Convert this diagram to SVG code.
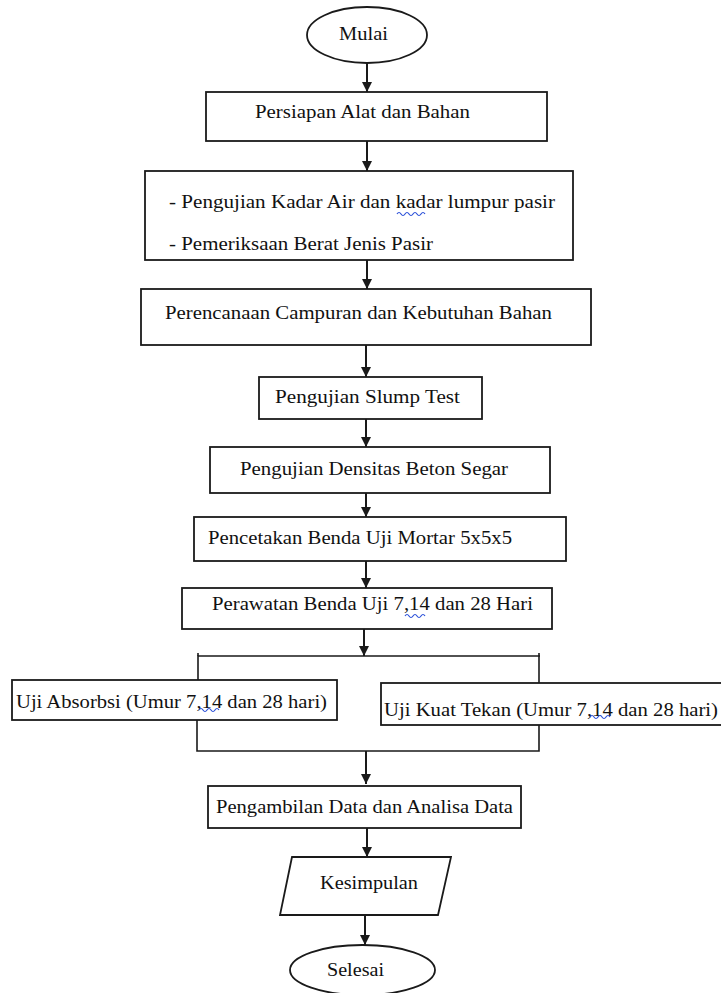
<svg xmlns="http://www.w3.org/2000/svg" width="721" height="993" viewBox="0 0 721 993">
<style>
.shape{fill:#fff;stroke:#1a1a1a;stroke-width:1.8}
.t{font-family:"Liberation Serif","Times New Roman",serif;font-size:19px;fill:#111}
.c{fill:none;stroke:#1a1a1a;stroke-width:2}
.b{fill:none;stroke:#1a1a1a;stroke-width:1.6}
.sq{fill:none;stroke:#2a4fd8;stroke-width:1.2}
</style>
<defs>
<marker id="ah" markerUnits="userSpaceOnUse" markerWidth="11" markerHeight="11" refX="10" refY="5" orient="auto">
<path d="M0,0 L10,5 L0,10 z" fill="#1a1a1a"/>
</marker>
</defs>
<rect width="721" height="993" fill="#fff"/>
<g id="connectors">
<line class="c" x1="367" y1="63" x2="367" y2="92" marker-end="url(#ah)"/>
<line class="c" x1="367" y1="141" x2="367" y2="171" marker-end="url(#ah)"/>
<line class="c" x1="367" y1="260" x2="367" y2="289" marker-end="url(#ah)"/>
<line class="c" x1="366" y1="345" x2="366" y2="377" marker-end="url(#ah)"/>
<line class="c" x1="366" y1="419" x2="366" y2="447" marker-end="url(#ah)"/>
<line class="c" x1="366" y1="493" x2="366" y2="517" marker-end="url(#ah)"/>
<line class="c" x1="366" y1="561" x2="366" y2="588" marker-end="url(#ah)"/>
<line class="c" x1="364" y1="629" x2="364" y2="656" marker-end="url(#ah)"/>
<polyline class="b" points="198,680 198,656 540,656"/>
<line class="b" x1="198" y1="653" x2="198" y2="656"/>
<line class="b" x1="539" y1="653" x2="539" y2="683"/>
<polyline class="b" points="197,720 197,751 539,751 539,725"/>
<line class="c" x1="366" y1="751" x2="366" y2="784" marker-end="url(#ah)"/>
<line class="c" x1="367" y1="828" x2="367" y2="857" marker-end="url(#ah)"/>
<line class="c" x1="365" y1="915" x2="365" y2="945" marker-end="url(#ah)"/>
</g>
<g id="mulai">
<ellipse class="shape" cx="367" cy="35" rx="60" ry="28"/>
<text class="t" x="339" y="40" textLength="49" lengthAdjust="spacingAndGlyphs">Mulai</text>
</g>
<g id="persiapan">
<rect class="shape" x="206" y="92" width="341" height="49"/>
<text class="t" x="255" y="118" textLength="215" lengthAdjust="spacingAndGlyphs">Persiapan Alat dan Bahan</text>
</g>
<g id="pengujian-kadar">
<rect class="shape" x="145" y="171" width="428" height="89"/>
<text class="t" x="169" y="208" textLength="386" lengthAdjust="spacingAndGlyphs">- Pengujian Kadar  Air dan kadar  lumpur pasir</text>
<path class="sq" d="M397,214 q2,-3 4,0 t4,0 t4,0 t4,0 t4,0 t4,0 t4,0"/>
<text class="t" x="169" y="250" textLength="264" lengthAdjust="spacingAndGlyphs">- Pemeriksaan  Berat Jenis Pasir</text>
</g>
<g id="perencanaan">
<rect class="shape" x="141" y="289" width="450" height="56"/>
<text class="t" x="165" y="319" textLength="387" lengthAdjust="spacingAndGlyphs">Perencanaan  Campuran dan Kebutuhan Bahan</text>
</g>
<g id="slump">
<rect class="shape" x="259" y="377" width="223" height="42"/>
<text class="t" x="275" y="403" textLength="185" lengthAdjust="spacingAndGlyphs">Pengujian Slump Test</text>
</g>
<g id="densitas">
<rect class="shape" x="210" y="447" width="340" height="46"/>
<text class="t" x="240" y="475" textLength="268" lengthAdjust="spacingAndGlyphs">Pengujian Densitas  Beton Segar</text>
</g>
<g id="pencetakan">
<rect class="shape" x="194" y="517" width="372" height="44"/>
<text class="t" x="208" y="544" textLength="304" lengthAdjust="spacingAndGlyphs">Pencetakan  Benda Uji Mortar  5x5x5</text>
</g>
<g id="perawatan">
<rect class="shape" x="182" y="588" width="370" height="41"/>
<text class="t" x="212" y="610" textLength="321" lengthAdjust="spacingAndGlyphs">Perawatan  Benda Uji 7,14 dan 28 Hari</text>
<path class="sq" d="M405,616 q2,-3 4,0 t4,0 t4,0 t4,0 t4,0"/>
</g>
<g id="absorbsi">
<rect class="shape" x="12" y="680" width="325" height="40"/>
<text class="t" x="16" y="708" textLength="311" lengthAdjust="spacingAndGlyphs">Uji Absorbsi (Umur  7,14 dan 28 hari)</text>
<path class="sq" d="M199,710 q2,-3 4,0 t4,0 t4,0 t4,0 t4,0"/>
</g>
<g id="kuat-tekan">
<rect class="shape" x="381" y="683" width="341" height="42"/>
<text class="t" x="384" y="716" textLength="334" lengthAdjust="spacingAndGlyphs">Uji Kuat Tekan  (Umur  7,14 dan 28 hari)</text>
<path class="sq" d="M590,717 q2,-3 4,0 t4,0 t4,0 t4,0 t4,0"/>
</g>
<g id="pengambilan">
<rect class="shape" x="208" y="786" width="313" height="42"/>
<text class="t" x="216" y="813" textLength="297" lengthAdjust="spacingAndGlyphs">Pengambilan Data dan Analisa Data</text>
</g>
<g id="kesimpulan">
<polygon class="shape" points="292,857 451,857 438,915 280,915"/>
<text class="t" x="320" y="889" textLength="98" lengthAdjust="spacingAndGlyphs">Kesimpulan</text>
</g>
<g id="selesai">
<ellipse class="shape" cx="362.5" cy="970" rx="72.5" ry="25"/>
<text class="t" x="327" y="976" textLength="57" lengthAdjust="spacingAndGlyphs">Selesai</text>
</g>
</svg>
